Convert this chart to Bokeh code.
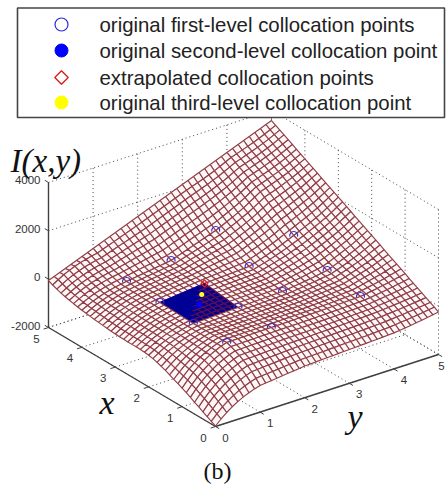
from bokeh.plotting import figure
from bokeh.embed import file_html
from bokeh.resources import INLINE
from bokeh.core.properties import value

# Axis ticks and labels
x_ticks = [0, 1, 2, 3, 4, 5]
y_ticks = [0, 1, 2, 3, 4, 5]
z_ticks = [-2000, 0, 2000, 4000]
mesh_step = 0.125

legend_labels = ["original first-level collocation points",
                 "original second-level collocation point",
                 "extrapolated collocation points",
                 "original third-level collocation point"]

# Collocation points: x, y and I(x,y)
first_x = [4, 4, 4, 3, 3, 2, 1, 2, 1, 1, 3, 2, 2]
first_y = [1, 2, 3, 3, 4, 4, 4, 3, 2, 1, 1, 1, 2]
first_z = [127, 400, 1045, 375, 1062, 433, 176, 160, 85, 60, 77, 27, 94]
second_x = [2.5]
second_y = [1.5]
second_z = [106]
third_x = [2.75]
third_y = [1.75]
third_z = [166]
extra_x = [3]
extra_y = [2]
extra_z = [267]

# Surface heights I(x,y), one row per x (0 to 5), one column per y (0 to 5),
# estimated by eye from the picture's edges and visible points
surface = [
[-1980,-1764,-1570,-1408,-1267,-1148,-1051,-965,-900,-874,-848,-821,-795,-769,-743,-716,-690,-679,-668,-656,-645,-634,-623,-611,-600,-591,-581,-571,-560,-550,-537,-524,-510,-483,-454,-424,-392,-360,-322,-282,-242],
[-1890,-1654,-1441,-1264,-1110,-980,-873,-779,-708,-686,-665,-643,-622,-600,-578,-557,-535,-525,-516,-506,-496,-486,-477,-467,-457,-449,-439,-430,-420,-410,-398,-386,-373,-350,-325,-300,-273,-246,-214,-180,-146],
[-1800,-1547,-1319,-1130,-965,-826,-712,-611,-535,-518,-500,-483,-465,-448,-430,-413,-395,-387,-378,-370,-362,-353,-345,-336,-328,-320,-311,-303,-293,-284,-273,-261,-249,-229,-207,-186,-162,-138,-110,-81,-51],
[-1700,-1438,-1203,-1006,-836,-692,-574,-470,-391,-377,-363,-349,-336,-322,-308,-294,-280,-273,-265,-258,-250,-243,-236,-228,-221,-213,-205,-197,-188,-179,-168,-157,-146,-127,-106,-85,-62,-39,-12,16,45],
[-1600,-1333,-1093,-893,-720,-573,-453,-346,-266,-255,-245,-234,-223,-212,-202,-191,-180,-174,-167,-161,-154,-148,-141,-135,-128,-121,-113,-105,-97,-88,-78,-68,-57,-37,-16,6,30,53,81,110,140],
[-1510,-1242,-1001,-800,-626,-478,-358,-250,-170,-161,-153,-144,-135,-126,-118,-109,-100,-95,-89,-84,-78,-73,-68,-62,-57,-50,-43,-35,-27,-19,-9,1,11,34,58,83,110,137,169,202,236],
[-1410,-1145,-906,-707,-535,-389,-270,-164,-84,-77,-71,-64,-57,-50,-44,-37,-30,-25,-21,-16,-11,-6,-2,3,8,15,22,29,37,44,54,63,73,99,127,156,187,218,254,293,332],
[-1320,-1057,-821,-624,-453,-309,-191,-86,-7,-2,2,7,12,16,21,25,30,34,39,43,48,52,56,61,65,71,78,85,93,100,109,119,128,158,191,224,260,295,337,382,427],
[-1230,-972,-740,-546,-379,-237,-121,-17,60,63,66,69,73,76,79,82,85,89,93,96,100,104,108,111,115,121,128,135,142,149,158,167,176,211,249,287,329,370,419,471,523],
[-1150,-909,-692,-511,-355,-222,-114,-17,55,59,63,67,71,74,78,82,86,90,95,99,104,108,112,117,121,129,139,148,158,168,180,192,205,246,292,337,387,437,495,557,619],
[-1070,-846,-644,-476,-331,-208,-107,-17,50,55,59,64,69,73,78,82,87,92,97,102,107,112,117,122,127,138,150,162,175,187,203,219,235,283,336,388,446,503,570,642,714],
[-990,-783,-597,-441,-307,-193,-100,-17,45,50,56,61,67,72,77,83,88,94,99,105,110,116,122,127,133,146,161,175,191,207,225,245,265,320,379,439,505,570,647,728,810],
[-910,-720,-549,-406,-283,-178,-93,-17,40,46,52,58,65,71,77,83,89,95,101,107,114,120,126,132,138,154,172,190,209,229,251,276,300,361,427,494,566,639,724,814,905],
[-840,-665,-507,-376,-262,-166,-87,-17,35,42,49,56,63,69,76,83,90,97,104,110,117,124,131,137,144,163,183,204,226,248,274,302,330,397,471,545,625,706,800,900,1001],
[-780,-618,-472,-351,-245,-156,-83,-19,30,38,45,53,61,68,76,83,91,98,106,113,121,128,135,143,150,172,195,219,245,270,300,333,365,438,519,599,687,775,877,987,1097],
[-730,-578,-442,-328,-230,-146,-78,-17,28,36,44,52,60,68,76,84,92,100,108,116,124,132,139,147,155,180,206,233,263,292,327,363,400,479,566,653,748,844,954,1073,1192],
[-690,-547,-418,-310,-217,-138,-73,-16,27,35,44,52,61,69,77,86,94,102,111,119,127,135,143,152,160,187,217,247,280,313,351,392,433,519,613,707,809,912,1032,1160,1288],
[-670,-529,-403,-297,-206,-129,-65,-9,33,43,54,64,74,84,95,105,115,124,133,141,150,159,168,176,185,218,253,289,328,367,413,461,510,597,694,790,895,999,1122,1253,1384],
[-660,-520,-394,-289,-198,-121,-58,-2,40,52,64,76,88,99,111,123,135,144,154,163,173,182,191,201,210,248,290,332,377,423,476,533,590,679,777,874,981,1088,1212,1346,1479],
[-650,-511,-386,-281,-191,-114,-51,4,46,60,73,87,100,114,128,141,155,165,175,185,195,205,215,225,235,278,325,373,424,476,536,601,665,756,856,956,1065,1175,1302,1439,1575],
[-650,-510,-383,-278,-187,-109,-46,10,52,68,84,99,115,131,147,162,178,189,200,211,222,232,243,254,265,313,366,419,476,534,601,673,745,838,939,1041,1152,1263,1393,1531,1670],
[-650,-508,-381,-275,-183,-105,-41,16,58,76,94,111,129,147,165,182,200,211,223,234,245,256,268,279,290,344,402,461,525,590,665,745,825,919,1023,1126,1239,1352,1484,1625,1766],
[-645,-503,-376,-269,-177,-99,-35,21,64,84,104,123,143,163,183,202,222,234,247,259,271,283,296,308,320,378,442,506,575,645,726,813,900,996,1102,1208,1323,1439,1573,1718,1862],
[-640,-498,-370,-264,-171,-93,-29,27,70,92,114,136,158,179,201,223,245,258,270,283,295,308,320,333,345,409,478,548,624,701,790,885,980,1078,1185,1293,1410,1527,1664,1810,1957],
[-630,-489,-361,-255,-163,-86,-22,35,77,101,125,148,172,196,220,243,267,281,294,308,321,335,348,362,375,444,519,595,677,760,856,959,1062,1161,1270,1379,1498,1617,1756,1904,2053],
[-615,-475,-350,-245,-154,-78,-15,41,83,108,133,158,183,208,233,258,283,304,325,346,367,387,408,429,450,523,603,684,771,859,961,1071,1180,1277,1383,1490,1606,1723,1858,2004,2149],
[-600,-462,-338,-235,-145,-69,-7,48,89,115,142,168,195,221,247,274,300,329,358,386,415,444,473,501,530,607,692,776,869,961,1069,1185,1300,1394,1498,1602,1715,1829,1961,2102,2244],
[-580,-445,-323,-222,-134,-60,1,55,95,123,151,178,206,234,262,289,317,354,392,429,466,503,541,578,615,697,786,876,974,1071,1186,1308,1430,1521,1621,1721,1830,1940,2067,2204,2340],
[-560,-428,-309,-210,-124,-51,8,61,101,130,159,188,217,246,275,304,333,379,425,471,517,562,608,654,700,785,879,972,1074,1176,1295,1423,1550,1639,1736,1833,1939,2046,2170,2302,2435],
[-540,-411,-294,-197,-113,-42,16,68,107,137,168,198,229,259,289,320,350,405,460,515,570,625,680,735,790,879,976,1073,1179,1286,1410,1542,1675,1761,1855,1949,2052,2154,2274,2403,2531],
[-515,-389,-276,-182,-101,-31,25,75,113,145,177,208,240,272,304,335,367,430,493,556,619,681,744,807,870,963,1065,1168,1279,1391,1521,1661,1800,1883,1974,2065,2164,2263,2379,2503,2627],
[-490,-368,-258,-167,-87,-20,35,83,120,153,186,219,252,284,317,350,383,455,527,599,672,744,816,888,960,1057,1163,1269,1385,1500,1636,1780,1925,2005,2092,2180,2276,2371,2483,2602,2722],
[-465,-347,-240,-151,-74,-9,44,91,127,161,195,229,264,298,332,366,400,481,561,642,723,803,884,964,1045,1146,1256,1367,1487,1608,1749,1899,2050,2127,2211,2296,2388,2480,2588,2703,2818],
[-435,-314,-205,-114,-36,31,85,134,170,211,253,294,335,376,418,459,500,584,668,751,835,919,1003,1086,1170,1268,1376,1484,1601,1719,1856,2003,2150,2226,2310,2394,2486,2578,2685,2799,2914],
[-400,-275,-162,-69,13,81,138,188,225,274,324,373,423,472,521,571,620,705,790,875,960,1045,1130,1215,1300,1395,1500,1604,1718,1832,1965,2108,2250,2326,2409,2493,2584,2675,2781,2895,3009],
[-360,-231,-115,-18,66,137,195,246,285,342,399,456,513,569,626,683,740,828,915,1003,1090,1178,1265,1353,1440,1531,1631,1731,1840,1950,2077,2214,2350,2426,2509,2592,2682,2773,2879,2992,3105],
[-320,-186,-65,35,122,196,256,310,350,415,480,545,610,675,740,805,870,959,1048,1136,1225,1314,1403,1491,1580,1667,1763,1858,1963,2067,2189,2320,2450,2525,2608,2690,2780,2870,2975,3088,3200],
[-270,-132,-8,96,185,261,323,379,420,493,565,638,710,783,855,928,1000,1090,1180,1270,1360,1450,1540,1630,1720,1803,1894,1986,2085,2185,2301,2426,2550,2625,2707,2789,2878,2968,3072,3184,3296],
[-210,-69,58,164,255,333,396,453,495,574,654,733,813,892,971,1051,1130,1221,1313,1404,1495,1586,1678,1769,1860,1939,2026,2113,2208,2302,2413,2532,2650,2724,2806,2887,2976,3066,3169,3281,3392],
[-140,4,134,242,335,414,479,537,580,666,751,837,923,1008,1094,1179,1265,1356,1448,1539,1630,1721,1813,1904,1995,2071,2155,2238,2329,2421,2527,2641,2755,2828,2909,2989,3077,3165,3267,3377,3487],
[-55,36,127,218,309,400,491,582,673,764,855,946,1037,1128,1219,1310,1401,1492,1583,1674,1765,1856,1947,2038,2129,2220,2311,2402,2493,2584,2675,2766,2857,2948,3039,3130,3221,3312,3403,3494,3583],
]


def px(x, y):
    return 215 - 33.4 * x + 44.6 * y


def py(x, y, z):
    return 426 - 19.8 * x - 14.4 * y - (z + 2000) * 0.02417


p = figure(width=446, height=489, x_range=(0, 446), y_range=(489, 0),
           output_backend="svg", toolbar_location=None, min_border=0,
           x_axis_location=None, y_axis_location=None)
p.grid.visible = False
p.outline_line_color = None

zlo, zhi = z_ticks[0], z_ticks[-1]
xmax, ymax = x_ticks[-1], y_ticks[-1]

# Dotted box: walls and floor
x0s, y0s, x1s, y1s = [], [], [], []


def dotted(a, b):
    x0s.append(px(a[0], a[1]))
    y0s.append(py(*a))
    x1s.append(px(b[0], b[1]))
    y1s.append(py(*b))


for z in z_ticks:
    dotted((xmax, 0, z), (xmax, ymax, z))
    dotted((0, ymax, z), (xmax, ymax, z))
for y in y_ticks:
    dotted((xmax, y, zlo), (xmax, y, zhi))
    dotted((0, y, zlo), (xmax, y, zlo))
for x in x_ticks:
    dotted((x, ymax, zlo), (x, ymax, zhi))
    dotted((x, 0, zlo), (x, ymax, zlo))
p.segment(x0s, y0s, x1s, y1s, line_color="#444444", line_width=1, line_dash="1 3")

# Solid axes
ax = [(xmax, 0, zlo), (xmax, 0, zhi)], [(0, 0, zlo), (xmax, 0, zlo)], [(0, 0, zlo), (0, ymax, zlo)]
for a, b in ax:
    p.line([px(a[0], a[1]), px(b[0], b[1])], [py(*a), py(*b)], line_color="#404040", line_width=1.4)

# Ticks and tick labels
tx0, ty0, tx1, ty1 = [], [], [], []
for x in x_ticks:
    tx0.append(px(x, 0)); ty0.append(py(x, 0, zlo))
    tx1.append(px(x, -0.11)); ty1.append(py(x, -0.11, zlo))
for y in y_ticks:
    tx0.append(px(0, y)); ty0.append(py(0, y, zlo))
    tx1.append(px(-0.11, y)); ty1.append(py(-0.11, y, zlo))
for z in z_ticks:
    tx0.append(px(xmax, 0)); ty0.append(py(xmax, 0, z))
    tx1.append(px(xmax + 0.11, 0)); ty1.append(py(xmax + 0.11, 0, z))
p.segment(tx0, ty0, tx1, ty1, line_color="#404040", line_width=1)

tick_font = dict(text_font=value("Liberation Sans"), text_font_size="11.5px", text_color="#333333",
                 text_align="center", text_baseline="middle")
p.text([px(x, 0) - 12 for x in x_ticks], [py(x, 0, zlo) + 11 for x in x_ticks],
       text=[str(x) for x in x_ticks], **tick_font)
p.text([min(px(0, y) + 10, 441) for y in y_ticks], [py(0, y, zlo) + 11 for y in y_ticks],
       text=[str(y) for y in y_ticks], **tick_font)
p.text([px(xmax, 0) - 8] * len(z_ticks), [py(xmax, 0, z) - 2 for z in z_ticks],
       text=[str(z) for z in z_ticks], text_font=value("Liberation Sans"), text_font_size="11.5px",
       text_color="#333333", text_align="right", text_baseline="middle")

# Surface: opaque cells, back to front
cells_x, cells_y, fills, lines = [], [], [], []
n = len(surface) - 1
for i in range(n - 1, -1, -1):
    for j in range(n - 1, -1, -1):
        corners = [(i, j), (i + 1, j), (i + 1, j + 1), (i, j + 1)]
        cells_x.append([px(a * mesh_step, b * mesh_step) for a, b in corners])
        cells_y.append([py(a * mesh_step, b * mesh_step, surface[a][b]) for a, b in corners])
        in_patch = (min(first_x[10:]) <= i * mesh_step < max(first_x[10:])
                    and min(first_y[10:]) <= j * mesh_step < max(first_y[10:]))
        if in_patch:
            fills.append("#00008f")
            lines.append("#5a1055" if (i - 16) + (15 - j) < 8 else "#00009c")
        else:
            fills.append("#fff6f6")
            lines.append("#8f3f48")
p.patches(cells_x, cells_y, fill_color=fills, line_color=lines, line_width=1.15)

# Collocation points
p.arc([px(a, b) for a, b in zip(first_x, first_y)],
      [py(a, b, c) for a, b, c in zip(first_x, first_y, first_z)],
      radius=4, start_angle=-0.3, end_angle=3.4, line_color="#3a30c8", line_width=1.2)
p.scatter([px(a, b) for a, b in zip(second_x, second_y)],
          [py(a, b, c) for a, b, c in zip(second_x, second_y, second_z)],
          size=6, marker="circle", fill_color="#0000ff", line_color=None)
p.scatter([px(a, b) for a, b in zip(third_x, third_y)],
          [py(a, b, c) for a, b, c in zip(third_x, third_y, third_z)],
          size=5, marker="circle", fill_color="#ffff30", line_color=None)
p.scatter([px(a, b) for a, b in zip(extra_x, extra_y)],
          [py(a, b, c) for a, b, c in zip(extra_x, extra_y, extra_z)],
          size=5, angle=0.785, marker="square", fill_color=None, line_color="#e02020", line_width=1.2)

# Legend
p.quad(left=[17], right=[444], top=[7.5], bottom=[117], fill_color="white", line_color="#444444", line_width=1.6)
leg_x = 61
leg_y = [24, 50, 77, 102]
p.scatter([leg_x], [leg_y[0]], size=13, marker="circle", fill_color="white", line_color="#2a2ad8", line_width=1.2)
p.scatter([leg_x], [leg_y[1]], size=13, marker="circle", fill_color="#0000ff", line_color="#0000ff")
p.scatter([leg_x], [leg_y[2]], size=9.5, angle=0.785, marker="square", fill_color="white", line_color="#d81818", line_width=1.3)
p.scatter([leg_x], [leg_y[3]], size=13, marker="circle", fill_color="#ffff00", line_color="#ffff00")
p.text([99] * 4, leg_y, text=legend_labels, text_font=value("Liberation Sans"),
       text_font_size="20.4px", text_color="#222222", text_baseline="middle")

# Axis titles
serif = dict(text_font=value("Liberation Serif"), text_color="#111111", text_baseline="middle")
p.text([10], [160], text=["I(x,y)"], text_font_size="33px", text_font_style="italic", **serif)
p.text([99], [402], text=["x"], text_font_size="34px", text_font_style="italic", **serif)
p.text([347], [416], text=["y"], text_font_size="34px", text_font_style="italic", **serif)
p.text([203], [470], text=["(b)"], text_font_size="24px", **serif)

open("out.html", "w").write(file_html(p, INLINE))
